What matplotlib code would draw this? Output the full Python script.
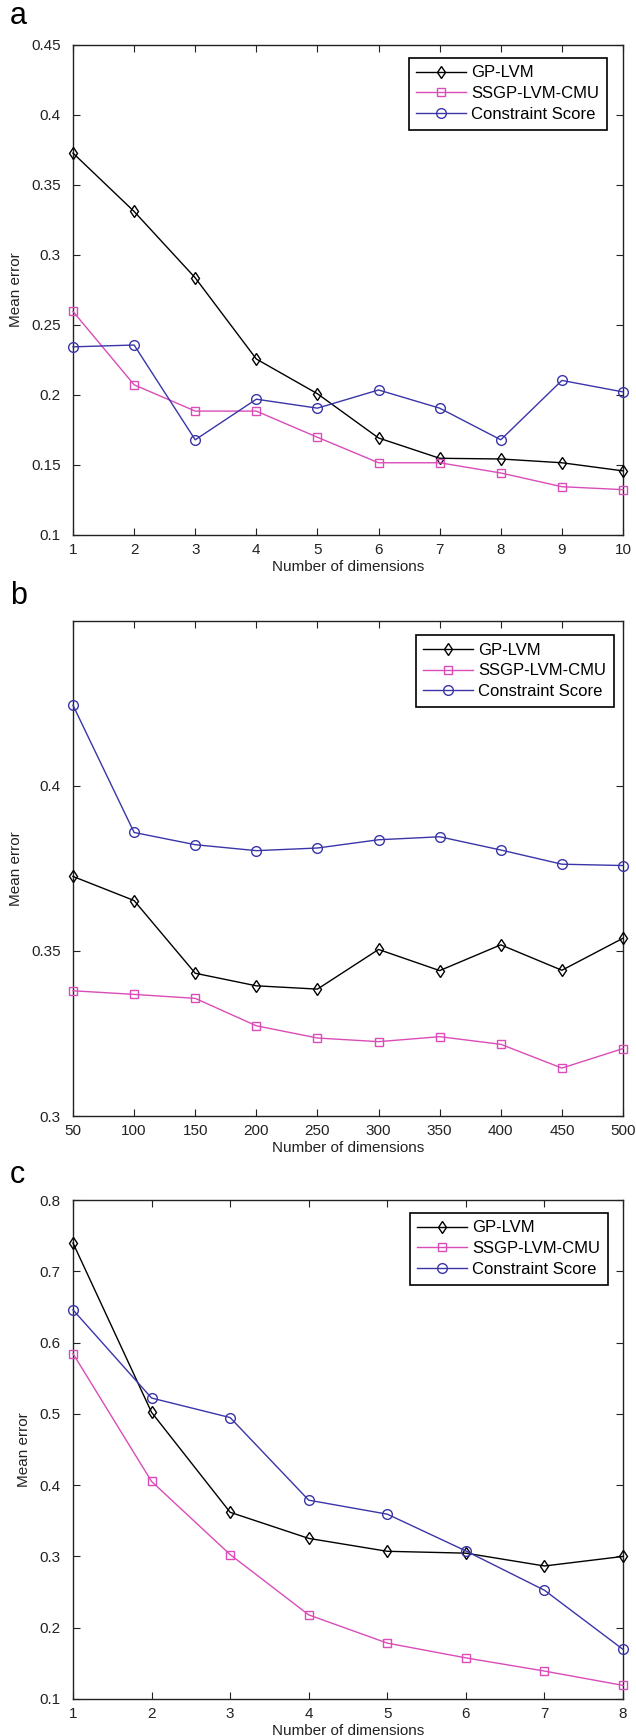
import matplotlib
matplotlib.use("Agg")
import matplotlib.pyplot as plt

plt.rcParams['font.family'] = ['Liberation Sans', 'DejaVu Sans']

series_names = ["GP-LVM", "SSGP-LVM-CMU", "Constraint Score"]

# Panel a
dims_a = [1, 2, 3, 4, 5, 6, 7, 8, 9, 10]
gplvm_a = [0.3728, 0.3311, 0.2837, 0.2257, 0.2009, 0.1693, 0.1548, 0.1543, 0.1516, 0.1458]
ssgp_a = [0.2597, 0.2073, 0.1885, 0.1885, 0.1698, 0.1516, 0.1516, 0.1443, 0.1345, 0.1324]
cs_a = [0.2344, 0.2357, 0.1680, 0.1970, 0.1906, 0.2036, 0.1906, 0.1680, 0.2104, 0.2022]
yticks_a = [0.1, 0.15, 0.2, 0.25, 0.3, 0.35, 0.4, 0.45]
yticklabels_a = ["0.1", "0.15", "0.2", "0.25", "0.3", "0.35", "0.4", "0.45"]

# Panel b
dims_b = [50, 100, 150, 200, 250, 300, 350, 400, 450, 500]
gplvm_b = [0.3725, 0.3652, 0.3432, 0.3394, 0.3384, 0.3504, 0.3440, 0.3518, 0.3441, 0.3538]
ssgp_b = [0.3379, 0.3368, 0.3356, 0.3273, 0.3236, 0.3225, 0.3240, 0.3217, 0.3145, 0.3204]
cs_b = [0.4243, 0.3858, 0.3821, 0.3803, 0.3811, 0.3836, 0.3845, 0.3805, 0.3762, 0.3758]
yticks_b = [0.3, 0.35, 0.4]
yticklabels_b = ["0.3", "0.35", "0.4"]

# Panel c
dims_c = [1, 2, 3, 4, 5, 6, 7, 8]
gplvm_c = [0.7397, 0.5021, 0.3619, 0.3253, 0.3072, 0.3046, 0.2866, 0.3000]
ssgp_c = [0.5845, 0.4052, 0.3026, 0.2180, 0.1784, 0.1577, 0.1392, 0.1191]
cs_c = [0.6459, 0.5222, 0.4948, 0.3789, 0.3593, 0.3077, 0.2526, 0.1696]
yticks_c = [0.1, 0.2, 0.3, 0.4, 0.5, 0.6, 0.7, 0.8]
yticklabels_c = ["0.1", "0.2", "0.3", "0.4", "0.5", "0.6", "0.7", "0.8"]

panel_labels = ["a", "b", "c"]

colors = ["#000000", "#DA4CB8", "#3A35A8"]
markers = ["d", "s", "o"]
msizes = [6.5, 5.5, 7]

W, H = 636, 1736
fig = plt.figure(figsize=(W / 100, H / 100), dpi=100)

# axes boxes in pixels: (left, top, right, bottom)
boxes = [(73, 45, 623, 535), (73, 621, 623, 1116), (73, 1200, 623, 1699)]
legend_anchor = [(0.9709, 0.9735), (0.9836, 0.9717), (0.9727, 0.974)]
label_pos = [(10, 16), (10, 596), (10, 1175)]

panels = [
    (dims_a, [gplvm_a, ssgp_a, cs_a], (1, 10), (0.1, 0.45), yticks_a, yticklabels_a),
    (dims_b, [gplvm_b, ssgp_b, cs_b], (50, 500), (0.3, 0.4498), yticks_b, yticklabels_b),
    (dims_c, [gplvm_c, ssgp_c, cs_c], (1, 8), (0.1, 0.8), yticks_c, yticklabels_c),
]

for i, (dims, ys, xlim, ylim, yt, ytl) in enumerate(panels):
    l, t, r, b = boxes[i]
    ax = fig.add_axes([l / W, 1 - b / H, (r - l) / W, (b - t) / H])
    for j, y in enumerate(ys):
        ax.plot(dims, y, color=colors[j], marker=markers[j], markersize=msizes[j],
                markerfacecolor="none", markeredgecolor=colors[j], markeredgewidth=1.0,
                linewidth=1.0, label=series_names[j], clip_on=False, zorder=3)
    ax.set_xlim(*xlim)
    ax.set_ylim(*ylim)
    ax.set_xticks(dims)
    ax.set_xticklabels([str(d) for d in dims])
    ax.set_yticks(yt)
    ax.set_yticklabels(ytl)
    ax.tick_params(direction="in", length=5, width=0.8, top=True, right=True,
                   labelsize=11, colors="#222222")
    ax.tick_params(axis="x", pad=6)
    ax.tick_params(axis="y", pad=9)
    for s in ax.spines.values():
        s.set_linewidth(1.0)
        s.set_color("#222222")
    ax.set_xlabel("Number of dimensions", fontsize=11, labelpad=2, color="#222222")
    ax.set_ylabel("Mean error", fontsize=11, labelpad=6, color="#222222")
    leg = ax.legend(loc="upper right", bbox_to_anchor=legend_anchor[i], fontsize=12,
                    frameon=True, fancybox=False, edgecolor="#000000", framealpha=1,
                    handlelength=3.0, handletextpad=0.3, borderpad=0.45,
                    labelspacing=0.35, borderaxespad=0)
    leg.get_frame().set_linewidth(1.2)
    fig.text(label_pos[i][0] / W, 1 - label_pos[i][1] / H, panel_labels[i],
             fontsize=22, ha="left", va="center")

fig.savefig("out.png", dpi=100)
